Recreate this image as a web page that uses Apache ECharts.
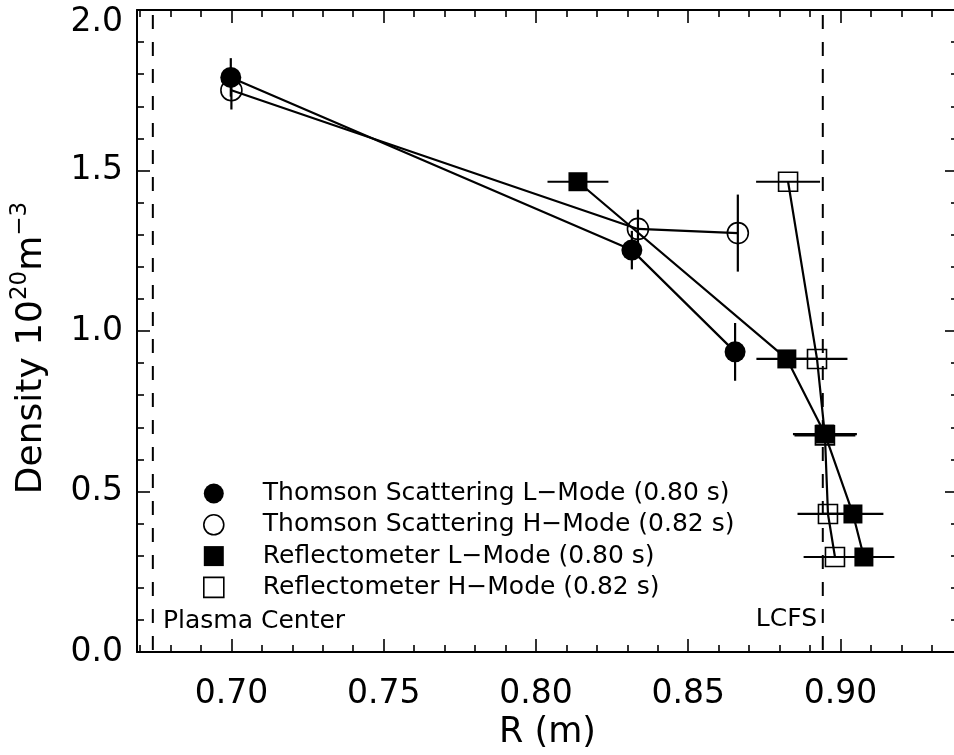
<!DOCTYPE html>
<html>
<head>
<meta charset="utf-8">
<script src="https://cdn.jsdelivr.net/npm/echarts@6/dist/echarts.min.js"></script>
<style>
  html, body { margin: 0; padding: 0; background: #fff; }
  #chart { width: 954px; height: 755px; }
</style>
</head>
<body>
<div id="chart"></div>
<script>
// ====== 测量数据 (R in m, density in 1e20 m^-3) ======
// Thomson scattering, L-mode (0.80 s)
const tsL_R = [0.6998, 0.8315, 0.8654];
const tsL_n = [1.79, 1.252, 0.935];
const tsL_err = [0.06, 0.06, 0.09];
// Thomson scattering, H-mode (0.82 s)
const tsH_R = [0.7, 0.8335, 0.8663];
const tsH_n = [1.75, 1.318, 1.305];
const tsH_err = [0.06, 0.06, 0.12];
// Reflectometer, L-mode (0.80 s) -- error bars are in R
const rfL_R = [0.8138, 0.8824, 0.8949, 0.9041, 0.9077];
const rfL_n = [1.465, 0.913, 0.679, 0.43, 0.296];
const rfL_err = [0.01, 0.01, 0.0105, 0.01, 0.01];
// Reflectometer, H-mode (0.82 s)
const rfH_R = [0.8828, 0.8923, 0.8949, 0.8959, 0.8982];
const rfH_n = [1.465, 0.913, 0.675, 0.43, 0.296];
const rfH_err = [0.0105, 0.01, 0.01, 0.01, 0.0103];

const seriesNames = [
  "Thomson Scattering L\u2212Mode (0.80 s)",
  "Thomson Scattering H\u2212Mode (0.82 s)",
  "Reflectometer L\u2212Mode (0.80 s)",
  "Reflectometer H\u2212Mode (0.82 s)",
];

// reference lines
const plasmaCenterR = 0.6742;
const lcfsR = 0.8942;
const yRange = [0, 2];

// axis ticks
const xMajorTicks = [0.7, 0.75, 0.8, 0.85, 0.9];
const xMinorTicks = [0.67, 0.68, 0.69, 0.71, 0.72, 0.73, 0.74, 0.76, 0.77, 0.78, 0.79,
  0.81, 0.82, 0.83, 0.84, 0.86, 0.87, 0.88, 0.89, 0.91, 0.92, 0.93];
const xMin = 0.669;
const xMax = 0.9386;

const FONT = "DejaVu Sans";
const BLACK = "#000";
const CLEAR = "rgba(255,255,255,0)";

const zip = (xs, ys) => xs.map((x, i) => [x, ys[i]]);

// 误差棒 (dir: 'v' 竖直, 'h' 水平)
function errorBars(xs, ys, errs, dir) {
  return {
    type: "custom",
    silent: true,
    z: 1,
    data: xs.map((x, i) => [x, ys[i], errs[i]]),
    renderItem: (params, api) => {
      const x = api.value(0), y = api.value(1), e = api.value(2);
      const p1 = dir === "v" ? api.coord([x, y - e]) : api.coord([x - e, y]);
      const p2 = dir === "v" ? api.coord([x, y + e]) : api.coord([x + e, y]);
      return {
        type: "line",
        shape: { x1: p1[0], y1: p1[1], x2: p2[0], y2: p2[1] },
        style: { stroke: BLACK, lineWidth: 2.2 },
      };
    },
  };
}

function dataLine(name, xs, ys, symbol, filled) {
  return {
    name,
    type: "line",
    z: 3,
    data: zip(xs, ys),
    symbol,
    symbolSize: symbol === "circle" ? 21 : 19,
    itemStyle: filled
      ? { color: BLACK }
      : { color: CLEAR, borderColor: BLACK, borderWidth: 1.6 },
    lineStyle: { color: BLACK, width: 2.2 },
    emphasis: { disabled: true },
  };
}

function dashedLine(r) {
  return {
    type: "line",
    silent: true,
    z: 1,
    symbol: "none",
    data: [[r, yRange[1]], [r, yRange[0]]],
    lineStyle: { color: BLACK, width: 2, type: [14, 13], dashOffset: -5 },
  };
}

function xAxisBase(position, ticks, len, withLine) {
  return {
    type: "value",
    position,
    min: xMin,
    max: xMax,
    splitLine: { show: false },
    axisLine: { show: withLine, lineStyle: { color: BLACK, width: 2 } },
    axisTick: { show: true, inside: true, length: len, customValues: ticks, lineStyle: { color: BLACK, width: 1.6 } },
    axisLabel: { show: false },
  };
}

function yAxisBase(position) {
  return {
    type: "value",
    position,
    min: yRange[0],
    max: yRange[1],
    interval: 0.5,
    splitLine: { show: false },
    axisLine: { show: true, lineStyle: { color: BLACK, width: 2 } },
    axisTick: { show: true, inside: true, length: 13, lineStyle: { color: BLACK, width: 1.6 } },
    minorTick: { show: true, splitNumber: 5, length: 7, lineStyle: { color: BLACK, width: 1.6 } },
    axisLabel: { show: false },
  };
}

const xBottom = xAxisBase("bottom", xMajorTicks, 13, true);
xBottom.axisLabel = {
  show: true,
  customValues: xMajorTicks,
  formatter: (v) => v.toFixed(2),
  margin: 26,
  color: BLACK,
  fontFamily: FONT,
  fontSize: 33,
};
xBottom.name = "R (m)";
xBottom.nameLocation = "middle";
xBottom.nameGap = 62;
xBottom.nameTextStyle = { color: BLACK, fontFamily: FONT, fontSize: 35 };

const yLeft = yAxisBase("left");
yLeft.axisLabel = {
  show: true,
  // 顶端的 2.0 标签在原图中略微下移
  formatter: (v) => (v === yRange[1] ? "{top|" + v.toFixed(1) + "}" : v.toFixed(1)),
  margin: 14,
  color: BLACK,
  fontFamily: FONT,
  fontSize: 33,
  rich: { top: { fontFamily: FONT, fontSize: 33, color: BLACK, padding: [24, 0, 0, 0] } },
};
yLeft.name = "Density 10{sup|20}m{end|\u22123}";
yLeft.nameLocation = "middle";
yLeft.nameGap = 82;
yLeft.nameTextStyle = {
  color: BLACK,
  fontFamily: FONT,
  fontSize: 36,
  lineHeight: 46,
  rich: {
    sup: { fontFamily: FONT, fontSize: 23, lineHeight: 23, verticalAlign: "top", color: BLACK },
    end: { fontFamily: FONT, fontSize: 23, lineHeight: 23, verticalAlign: "top", color: BLACK, padding: [0, 34, 0, 0] },
  },
};

const legendIcons = [
  { icon: "circle", itemStyle: { color: BLACK, borderWidth: 0 } },
  { icon: "circle", itemStyle: { color: "#fff", borderColor: BLACK, borderWidth: 1.6 } },
  { icon: "rect", itemStyle: { color: BLACK, borderWidth: 0 } },
  { icon: "rect", itemStyle: { color: "#fff", borderColor: BLACK, borderWidth: 1.6 } },
];

const option = {
  animation: false,
  backgroundColor: "#fff",
  grid: { left: 137, top: 10, width: 821, height: 642, outerBoundsMode: "none" },
  xAxis: [
    xBottom,
    xAxisBase("bottom", xMinorTicks, 7, false),
    xAxisBase("top", xMajorTicks, 13, true),
    xAxisBase("top", xMinorTicks, 7, false),
  ],
  yAxis: [yLeft, yAxisBase("right")],
  legend: {
    orient: "vertical",
    left: 203,
    top: 481,
    padding: 0,
    itemWidth: 20,
    itemHeight: 20,
    itemGap: 6.3,
    selectedMode: false,
    data: seriesNames.map((name, i) => ({ name, ...legendIcons[i] })),
    formatter: (name) => "{t|" + name + "}",
    textStyle: {
      rich: {
        t: { fontFamily: FONT, fontSize: 25, color: BLACK, padding: [0, 0, 0, 34] },
      },
    },
  },
  graphic: [
    {
      type: "text",
      x: 163,
      y: 621,
      style: { text: "Plasma Center", fontFamily: FONT, fontSize: 25, fill: BLACK, align: "left", verticalAlign: "middle" },
    },
    {
      type: "text",
      x: 817,
      y: 619,
      style: { text: "LCFS", fontFamily: FONT, fontSize: 25, fill: BLACK, align: "right", verticalAlign: "middle" },
    },
  ],
  series: [
    dashedLine(plasmaCenterR),
    dashedLine(lcfsR),
    errorBars(tsL_R, tsL_n, tsL_err, "v"),
    errorBars(tsH_R, tsH_n, tsH_err, "v"),
    errorBars(rfL_R, rfL_n, rfL_err, "h"),
    errorBars(rfH_R, rfH_n, rfH_err, "h"),
    dataLine(seriesNames[0], tsL_R, tsL_n, "circle", true),
    dataLine(seriesNames[1], tsH_R, tsH_n, "circle", false),
    dataLine(seriesNames[2], rfL_R, rfL_n, "rect", true),
    dataLine(seriesNames[3], rfH_R, rfH_n, "rect", false),
  ],
};

const chart = echarts.init(document.getElementById("chart"));
chart.setOption(option);
</script>
</body>
</html>
